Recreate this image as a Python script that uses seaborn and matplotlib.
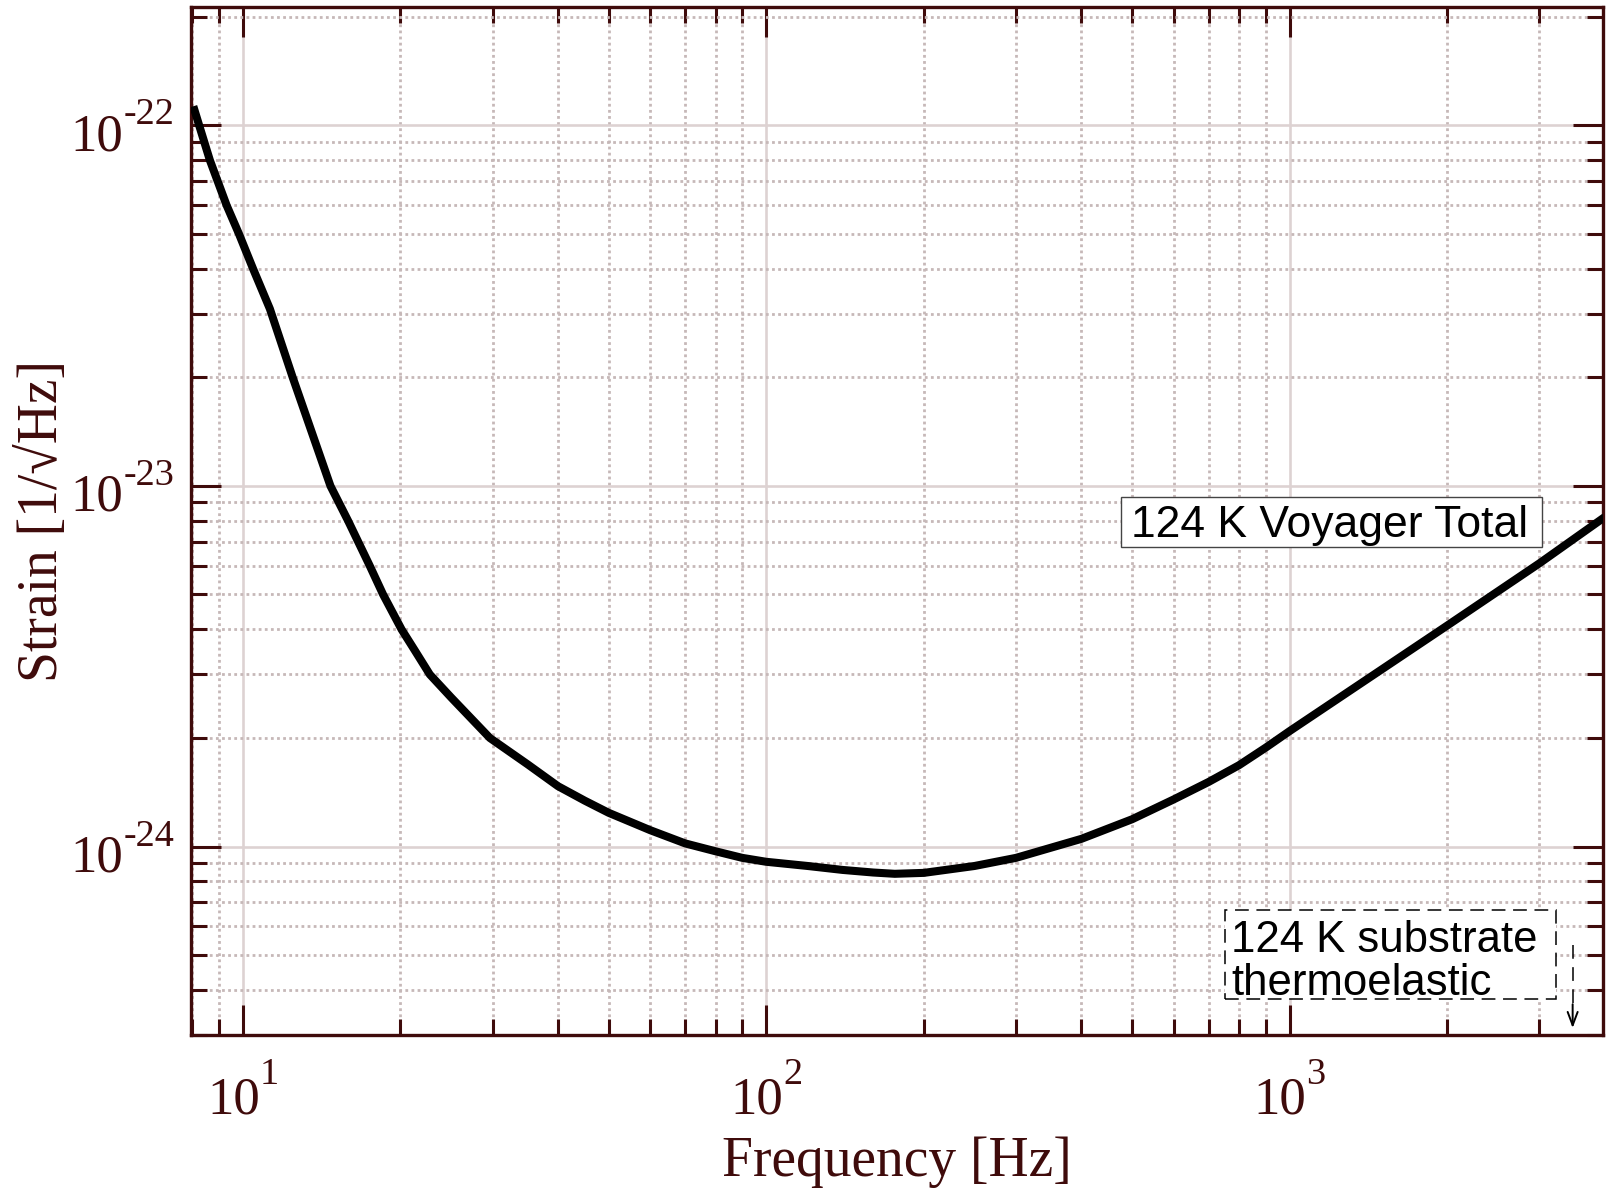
import numpy as np
import pandas as pd
import matplotlib
matplotlib.use("Agg")
import matplotlib.pyplot as plt
import seaborn as sns
from matplotlib.ticker import LogLocator, NullFormatter
from matplotlib.patches import Rectangle
from matplotlib.transforms import offset_copy

# Voyager total strain noise (124 K)
freq_hz = [8.04, 8.25, 8.65, 9.31, 9.83, 10.46, 11.26, 12.45, 14.7, 15.89,
           17.48, 18.53, 20.1, 21.3, 22.76, 25.0, 29.64, 35.0, 40.0, 45.0,
           50.0, 60.0, 70.0, 80.0, 90.0, 100.0, 120.0, 140.0, 160.0, 176.0,
           200.0, 250.0, 300.0, 400.0, 500.0, 600.0, 700.0, 800.0, 900.0, 1000.0,
           2000.0, 3000.0, 4000.0]
strain = [1.13e-22, 1.0e-22, 8.0e-23, 6.0e-23, 5.0e-23, 4.0e-23, 3.1e-23, 2.0e-23, 1.0e-23, 8.0e-24,
          6.0e-24, 5.0e-24, 4.0e-24, 3.5e-24, 3.0e-24, 2.59e-24, 2.0e-24, 1.69e-24, 1.47e-24, 1.34e-24,
          1.24e-24, 1.11e-24, 1.02e-24, 9.7e-25, 9.3e-25, 9.07e-25, 8.83e-25, 8.61e-25, 8.47e-25, 8.4e-25,
          8.45e-25, 8.83e-25, 9.3e-25, 1.05e-24, 1.19e-24, 1.35e-24, 1.51e-24, 1.68e-24, 1.88e-24, 2.09e-24,
          4.1e-24, 6.1e-24, 8.2e-24]

# decade tick labels (base 10, exponent)
x_decades = [1, 2, 3]
y_decades = [-22, -23, -24]

total_label = "124 K Voyager Total"
substrate_label = ["124 K substrate", "thermoelastic"]
x_label = "Frequency [Hz]"
y_label = "Strain [1/\u221aHz]"

INK = "#3f0b0b"

sns.set_theme(style="white")
plt.rcParams.update({
    "font.family": ["Liberation Serif", "DejaVu Serif"],
    "xtick.bottom": True, "xtick.top": True,
    "ytick.left": True, "ytick.right": True,
    "xtick.direction": "in", "ytick.direction": "in",
    "xtick.major.size": 21.5, "ytick.major.size": 21.5,
    "xtick.minor.size": 11.5, "ytick.minor.size": 11.5,
    "xtick.major.width": 2.2, "ytick.major.width": 2.2,
    "xtick.minor.width": 2.2, "ytick.minor.width": 2.2,
    "xtick.color": INK, "ytick.color": INK,
})

df = pd.DataFrame({"freq": freq_hz, "strain": strain})

fig = plt.figure(figsize=(16.08, 11.89), dpi=100)
ax = fig.add_axes([0.1188, 0.1295, 0.8781, 0.8646])

sns.lineplot(data=df, x="freq", y="strain", ax=ax, color="black",
             linewidth=5.8, solid_joinstyle="round", solid_capstyle="butt", zorder=3)

ax.set_xscale("log")
ax.set_yscale("log")
ax.set_xlim(7.96, 3970)
ax.set_ylim(3.0e-25, 2.13e-22)

for axis in (ax.xaxis, ax.yaxis):
    axis.set_major_locator(LogLocator(base=10, numticks=20))
    axis.set_minor_locator(LogLocator(base=10, subs=np.arange(2, 10), numticks=20))
    axis.set_major_formatter(NullFormatter())
    axis.set_minor_formatter(NullFormatter())

ax.set_axisbelow(True)
ax.grid(which="major", color="#ddd2d2", linewidth=1.9, linestyle="-")
ax.grid(which="minor", color="#c6b8b8", linewidth=2.0, linestyle=(0, (1, 1.2)))

ax.xaxis.set_ticks_position("both")
ax.yaxis.set_ticks_position("both")
ax.tick_params(which="both", direction="in", top=True, right=True, bottom=True, left=True,
               color=INK, width=2.2)
ax.tick_params(which="major", length=21.5)
ax.tick_params(which="minor", length=11.5)

for side in ax.spines.values():
    side.set_color(INK)
    side.set_linewidth(2.4)

ax.set_xlabel(x_label, fontsize=40, color=INK)
ax.set_ylabel(y_label, fontsize=40, color=INK)
ax.xaxis.set_label_coords(0.5, -0.098)
ax.yaxis.set_label_coords(-0.0866, 0.5)

# decade labels: "10" with a raised exponent, drawn as two texts
BASE_PT, SUP_PT = 38, 27.5
renderer = fig.canvas.get_renderer()


def text_width(t):
    return t.get_window_extent(renderer).width


xtrans = ax.get_xaxis_transform()
for e in x_decades:
    v = 10.0 ** e
    base = ax.text(v, 0, "10", fontsize=BASE_PT, color=INK, ha="left", va="baseline",
                   transform=xtrans)
    sup = ax.text(v, 0, str(e), fontsize=SUP_PT, color=INK, ha="left", va="baseline",
                  transform=xtrans)
    wb, ws = text_width(base), text_width(sup)
    x0 = -(wb + ws) / 2.0
    base.set_transform(offset_copy(xtrans, fig=fig, x=x0, y=-78, units="dots"))
    sup.set_transform(offset_copy(xtrans, fig=fig, x=x0 + wb, y=-49, units="dots"))

ytrans = ax.get_yaxis_transform()
for e in y_decades:
    v = 10.0 ** e
    sup = ax.text(0, v, "-%d" % (-e), fontsize=SUP_PT, color=INK, ha="right", va="baseline",
                  transform=offset_copy(ytrans, fig=fig, x=-17, y=1, units="dots"))
    ws = text_width(sup)
    ax.text(0, v, "10", fontsize=BASE_PT, color=INK, ha="right", va="baseline",
            transform=offset_copy(ytrans, fig=fig, x=-17 - ws, y=-25, units="dots"))

# boxed curve label
ax.add_patch(Rectangle((0.6584, 0.4744), 0.9566 - 0.6584, 0.5236 - 0.4744,
                       transform=ax.transAxes, facecolor="white", edgecolor="#444444",
                       linewidth=1.0, zorder=4))
ax.text(0.806, 0.4847, total_label, transform=ax.transAxes,
        ha="center", va="baseline", fontsize=32, family="Liberation Sans",
        color="black", zorder=5)

# dashed label for the off-scale substrate thermoelastic curve
ax.add_patch(Rectangle((0.7323, 0.0347), 0.9667 - 0.7323, 0.1216 - 0.0347,
                       transform=ax.transAxes, facecolor="white", edgecolor="black",
                       linewidth=1.1, linestyle=(0, (9, 5)), zorder=4))
ax.text(0.7365, 0.081, substrate_label[0], transform=ax.transAxes,
        ha="left", va="baseline", fontsize=31.5, family="Liberation Sans",
        color="black", zorder=5)
ax.text(0.7365, 0.0389, substrate_label[1], transform=ax.transAxes,
        ha="left", va="baseline", fontsize=31.5, family="Liberation Sans",
        color="black", zorder=5)

ax.plot([0.9785, 0.9785], [0.0875, 0.03], transform=ax.transAxes,
        color="black", linewidth=1.1, linestyle=(0, (9, 5.5)), zorder=5)
ax.annotate("", xy=(0.9785, 0.0068), xytext=(0.9785, 0.03),
            xycoords="axes fraction", textcoords="axes fraction",
            arrowprops=dict(arrowstyle="->,head_length=0.8,head_width=0.3",
                            color="black", linewidth=1.4, shrinkA=0, shrinkB=0),
            zorder=5)

fig.savefig("out.png", dpi=100)
